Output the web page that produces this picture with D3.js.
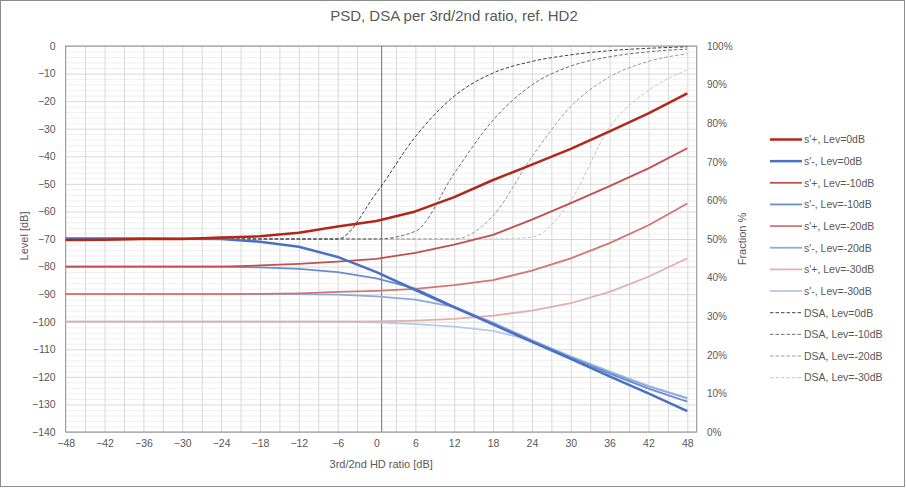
<!DOCTYPE html>
<html><head><meta charset="utf-8">
<script src="https://cdn.jsdelivr.net/npm/d3@7"></script>
<style>body{margin:0;background:#fff}svg{display:block}text{font-family:"Liberation Sans",Arial,sans-serif;fill:#595959}</style>
</head><body><svg id="c" width="906" height="489"></svg>
<script>
const xs = [-48,-42,-36,-30,-24,-18,-12,-6,0,6,12,18,24,30,36,42,48];
const sPlus0   = [-70.4,-70.3,-70,-70,-69.5,-69,-67.7,-65.5,-63.5,-60,-54.8,-48.6,-43,-37.3,-31,-24.4,-17.2];
const sMinus0  = [-69.8,-69.8,-69.8,-69.9,-70,-71,-72.8,-76.5,-82,-88.5,-94.8,-101,-107.3,-113.5,-119.8,-126,-132.4];
const sPlus10  = [-80,-80,-80,-80,-80,-79.6,-79,-78.2,-77.2,-75,-72,-68.5,-63,-57,-50.8,-44.4,-37.1];
const sMinus10 = [-80,-80,-80,-80,-80,-80.3,-80.8,-82,-84.3,-88,-94.5,-100.8,-107,-113,-118.8,-124.3,-129];
const sPlus20  = [-90,-90,-90,-90,-90,-89.9,-89.7,-89.2,-88.8,-88.1,-86.7,-84.9,-81.5,-77,-71.5,-65,-57.1];
const sMinus20 = [-90,-90,-90,-90,-90,-90,-90,-90.2,-90.8,-92,-94.6,-100.3,-106.7,-112.8,-118.3,-123.5,-127.8];
const sPlus30  = [-100,-100,-100,-100,-100,-100,-100,-100,-99.9,-99.6,-99,-97.8,-96,-93.3,-89.2,-83.7,-77];
const sMinus30 = [-100,-100,-100,-100,-100,-100,-100,-100,-100.2,-100.9,-101.8,-103.3,-106.8,-112.5,-118,-123.2,-127.6];
const dsa0  = [50,50,50,50,50,50,50,50,62,76.5,87,93,96,97.7,98.8,99.4,99.8];
const dsa10 = [50,50,50,50,50,50,50,50,50,52,67,80.8,89.9,94.8,97.2,98.5,99.2];
const dsa20 = [50,50,50,50,50,50,50,50,50,50,50,56,71.3,84.3,92,96,98];
const dsa30 = [50,50,50,50,50,50,50,50,50,50,50,50,50.5,60,79,88.5,93.8];
const xTicks = [-48,-42,-36,-30,-24,-18,-12,-6,0,6,12,18,24,30,36,42,48];
const yTicks = [0,-10,-20,-30,-40,-50,-60,-70,-80,-90,-100,-110,-120,-130,-140];
const pTicks = [0,10,20,30,40,50,60,70,80,90,100];

const series = [
  {name:"s'+, Lev=0dB",  v:sPlus0,  c:"#b3261a", w:2.5, ax:"L"},
  {name:"s'-, Lev=0dB",  v:sMinus0, c:"#4a70c4", w:2.5, ax:"L"},
  {name:"s'+, Lev=-10dB",v:sPlus10, c:"#c0504d", w:1.8, ax:"L"},
  {name:"s'-, Lev=-10dB",v:sMinus10,c:"#6a8cd2", w:1.8, ax:"L"},
  {name:"s'+, Lev=-20dB",v:sPlus20, c:"#d27573", w:1.8, ax:"L"},
  {name:"s'-, Lev=-20dB",v:sMinus20,c:"#8eaadc", w:1.8, ax:"L"},
  {name:"s'+, Lev=-30dB",v:sPlus30, c:"#e4aeac", w:1.8, ax:"L"},
  {name:"s'-, Lev=-30dB",v:sMinus30,c:"#b7c9e8", w:1.8, ax:"L"},
  {name:"DSA, Lev=0dB",  v:dsa0,  c:"#404040", w:1, ax:"R", dash:"3.5,2"},
  {name:"DSA, Lev=-10dB",v:dsa10, c:"#6e6e6e", w:1, ax:"R", dash:"3.5,2"},
  {name:"DSA, Lev=-20dB",v:dsa20, c:"#9c9c9c", w:1, ax:"R", dash:"3.5,2"},
  {name:"DSA, Lev=-30dB",v:dsa30, c:"#c6c6c6", w:1, ax:"R", dash:"3.5,2"}
];

const L=65.7, R=696.7, T=46, B=432;
const x = d3.scaleLinear().domain([-48,49.45]).range([L,R]);
const y = d3.scaleLinear().domain([-140,0]).range([B,T]);
const yR = d3.scaleLinear().domain([0,100]).range([B,T]);
const svg = d3.select("#c");

svg.append("rect").attr("x",0.5).attr("y",0.5).attr("width",904).attr("height",486)
  .attr("fill","#fff").attr("stroke","#8c8c8c");

// gridlines
const minor = d3.range(-138,0,2).filter(d=>d%10!==0);
const gMinor = svg.append("g").attr("transform",`translate(${L},0)`)
  .call(d3.axisLeft(y).tickValues(minor).tickSize(-(R-L)).tickFormat(""));
gMinor.selectAll("line").attr("stroke","#f0f0f0");
gMinor.select(".domain").remove();
const gMajor = svg.append("g").attr("transform",`translate(${L},0)`)
  .call(d3.axisLeft(y).tickValues(yTicks).tickSize(-(R-L)).tickFormat(""));
gMajor.selectAll("line").attr("stroke","#d9d9d9");
gMajor.select(".domain").remove();
const vg = d3.range(-45,49,3).filter(d=>d!==0);
const gV = svg.append("g").attr("transform",`translate(0,${B})`)
  .call(d3.axisBottom(x).tickValues(vg).tickSize(-(B-T)).tickFormat(""));
gV.selectAll("line").attr("stroke","#d9d9d9");
gV.select(".domain").remove();

// dark vertical line
svg.append("line").attr("x1",x(0.8)).attr("x2",x(0.8)).attr("y1",T).attr("y2",B)
  .attr("stroke","#6e6e6e").attr("stroke-width",1);

// plot border
svg.append("rect").attr("x",L).attr("y",T).attr("width",R-L).attr("height",B-T)
  .attr("fill","none").attr("stroke","#8c8c8c");

// axes labels
const axL = svg.append("g").attr("transform",`translate(${L-10},0)`)
  .call(d3.axisLeft(y).tickValues(yTicks).tickSize(0).tickPadding(0));
axL.select(".domain").remove();
axL.selectAll("text").attr("font-size",10.5).attr("fill","#595959").attr("font-family","Liberation Sans, Arial, sans-serif");

const axR = svg.append("g").attr("transform",`translate(707,0)`)
  .call(d3.axisRight(yR).tickValues(pTicks).tickSize(0).tickPadding(0).tickFormat(d=>d+"%"));
axR.select(".domain").remove();
axR.selectAll("text").attr("font-size",10).attr("fill","#595959").attr("font-family","Liberation Sans, Arial, sans-serif");

const axB = svg.append("g").attr("transform",`translate(0,${B+8})`)
  .call(d3.axisBottom(x).tickValues(xTicks).tickSize(0).tickPadding(0));
axB.select(".domain").remove();
axB.selectAll("text").attr("font-size",10.5).attr("fill","#595959").attr("font-family","Liberation Sans, Arial, sans-serif");

// lines
const lineL = d3.line().x((d,i)=>x(xs[i])).y(d=>y(d));
const lineR = d3.line().x((d,i)=>x(xs[i])).y(d=>yR(d)).curve(d3.curveMonotoneX);
const drawOrder = [11,10,9,8,7,6,5,4,3,2,1,0];
drawOrder.forEach(k=>{
  const s = series[k];
  svg.append("path").attr("d",(s.ax==="L"?lineL:lineR)(s.v))
    .attr("fill","none").attr("stroke",s.c).attr("stroke-width",s.w)
    .attr("stroke-dasharray",s.dash||null).attr("stroke-linejoin","round");
});

// titles
svg.append("text").attr("x",454).attr("y",21).attr("text-anchor","middle")
  .attr("font-size",15).text("PSD, DSA per 3rd/2nd ratio, ref. HD2");
svg.append("text").attr("x",(L+R)/2).attr("y",468).attr("text-anchor","middle")
  .attr("font-size",11).text("3rd/2nd HD ratio [dB]");
svg.append("text").attr("transform","translate(28,236) rotate(-90)").attr("text-anchor","middle")
  .attr("font-size",11).text("Level [dB]");
svg.append("text").attr("transform","translate(746,239) rotate(-90)").attr("text-anchor","middle")
  .attr("font-size",11).text("Fraction %");

// legend
const lg = svg.append("g");
series.forEach((s,i)=>{
  const yy = 139.5 + i*21.65;
  lg.append("line").attr("x1",770).attr("x2",802).attr("y1",yy).attr("y2",yy)
    .attr("stroke",s.c).attr("stroke-width",s.w).attr("stroke-dasharray",s.dash||null);
  lg.append("text").attr("x",804).attr("y",yy+3.8).attr("font-size",10.5).text(s.name);
});
</script></body></html>
